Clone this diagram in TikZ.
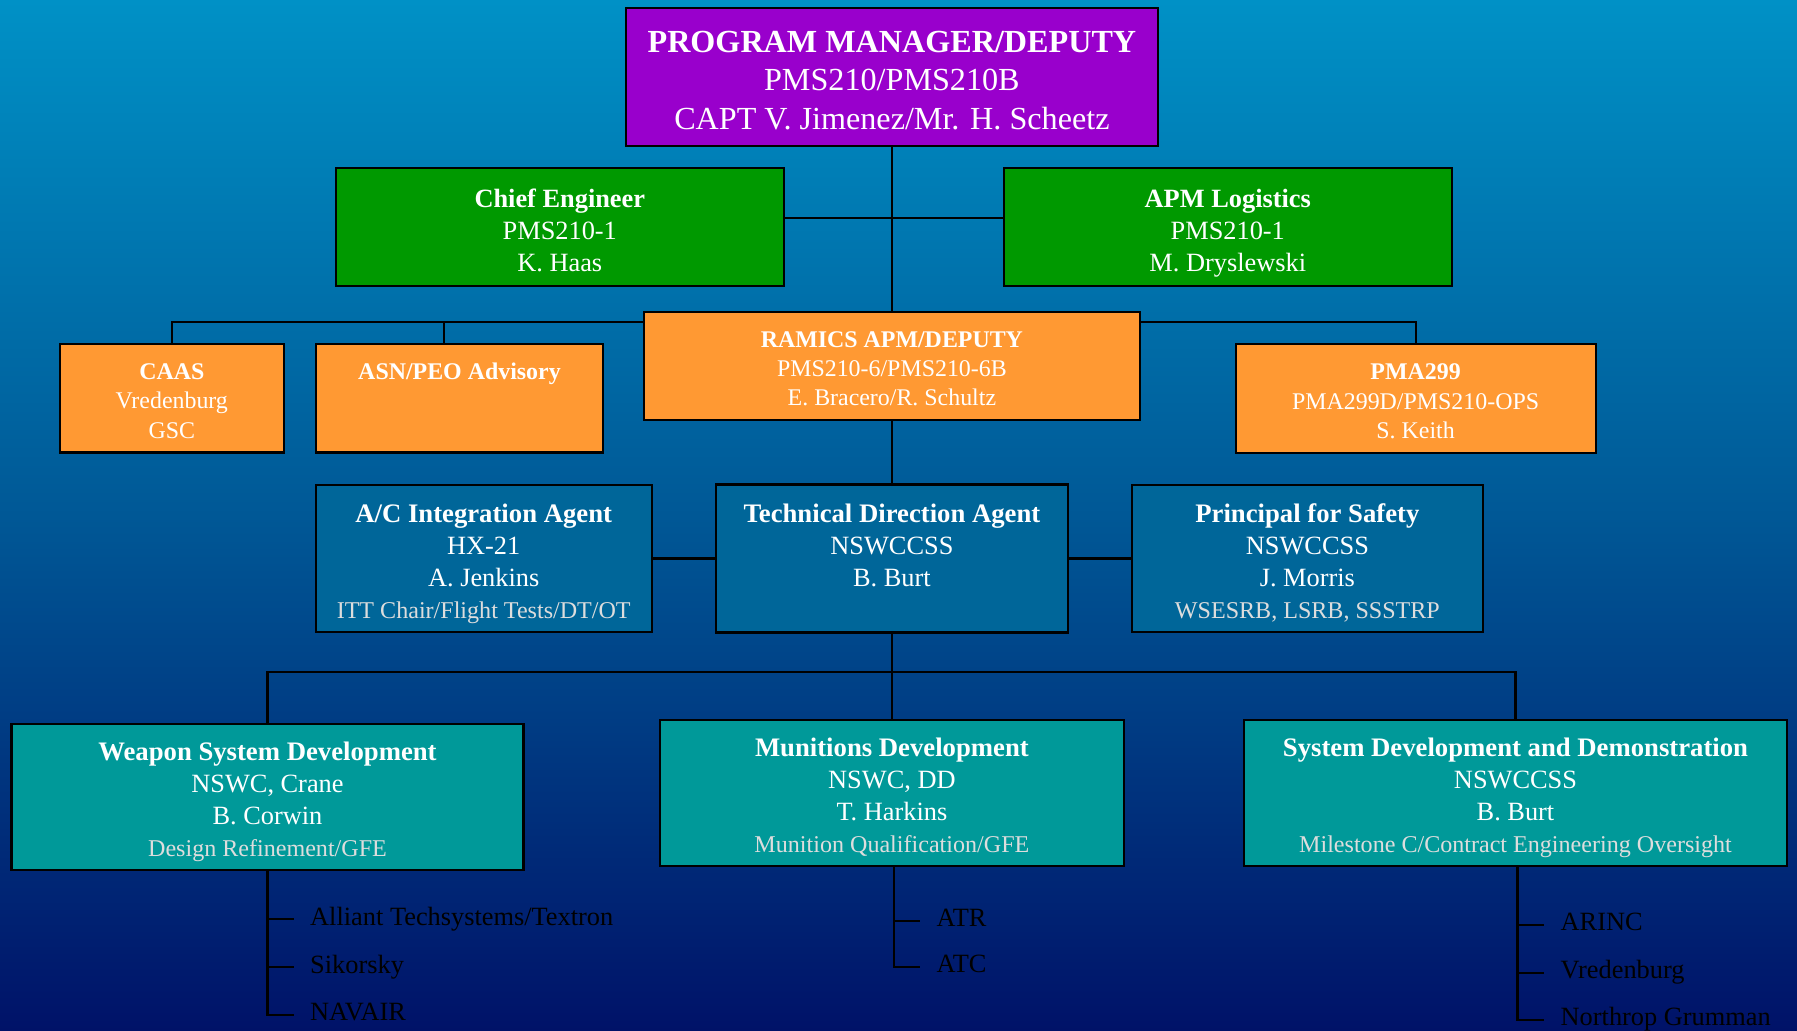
\documentclass[tikz,border=0pt]{standalone}
\usepackage{fontspec}
\setmainfont{Liberation Serif}
\usepackage{tikz}
\usetikzlibrary{positioning}
\usetikzlibrary{calc}

\definecolor{bgtop}{RGB}{0,145,198}
\definecolor{bgmid}{RGB}{0,88,150}
\definecolor{bgbot}{RGB}{0,18,104}
\definecolor{pmviolet}{RGB}{153,0,204}
\definecolor{staffgreen}{RGB}{0,153,0}
\definecolor{offorange}{RGB}{255,153,51}
\definecolor{agentblue}{RGB}{0,102,153}
\definecolor{actteal}{RGB}{0,153,153}
\definecolor{notegray}{RGB}{221,221,221}

\newcommand\duty[1]{{\fontsize{6.85}{9.1}\selectfont\color{notegray}#1}}
\newcommand\bighead[1]{\textbf{\fontsize{7.6}{9.1}\selectfont #1}}

\begin{document}
\begin{tikzpicture}[scale=1.0,
    unit/.style={draw=black, line width=0.6pt, text=white, align=center, inner sep=0pt, text depth=0pt},
    top/.style={unit, fill=pmviolet, font=\fontsize{9.15}{10.9}\selectfont, text height=29.6pt},
    staff/.style={unit, fill=staffgreen, font=\fontsize{7.5}{9.1}\selectfont, text height=25.1pt,
      minimum width=4.476cm, minimum height=1.18cm},
    office/.style={unit, fill=offorange, font=\fontsize{6.8}{8.3}\selectfont, text height=22.6pt},
    agent/.style={unit, fill=agentblue, font=\fontsize{7.5}{9.1}\selectfont, text height=33.9pt,
      minimum height=1.47cm},
    activity/.style={unit, fill=actteal, font=\fontsize{7.5}{9.1}\selectfont, text height=33.8pt,
      minimum height=1.456cm},
    member/.style={anchor=west, inner sep=0pt, text height=4.4pt, text depth=1pt,
      font=\fontsize{7.5}{9}\selectfont, text=black},
    link/.style={draw=black, line width=0.6pt}]
  \useasboundingbox (0,0) rectangle (17.97,-10.31);
  \shade[top color=bgtop, bottom color=bgbot, middle color=bgmid] (0,0) rectangle (17.97,-10.31);

  \node[top, minimum width=5.32cm, minimum height=1.38cm] (pm) at (8.919,-0.77)
    {\textbf{PROGRAM MANAGER/DEPUTY}\\PMS210/PMS210B\\CAPT V. Jimenez/Mr. H. Scheetz};

  \node[staff] (chief) at (5.598,-2.27) {\textbf{Chief Engineer}\\PMS210-1\\K. Haas};
  \node[staff] (apm) at (12.278,-2.27) {\textbf{APM Logistics}\\PMS210-1\\M. Dryslewski};

  \node[office, minimum width=2.236cm, minimum height=1.085cm] (caas) at (1.718,-3.983)
    {\textbf{CAAS}\\Vredenburg\\GSC};
  \node[office, minimum width=2.876cm, minimum height=1.085cm] (asn) at (4.595,-3.983)
    {\textbf{ASN/PEO Advisory}\\\mbox{}\\\mbox{}};
  \node[office, minimum width=4.958cm, minimum height=1.077cm] (ramics) at (8.919,-3.662)
    {\textbf{RAMICS APM/DEPUTY}\\PMS210-6/PMS210-6B\\E. Bracero/R. Schultz};
  \node[office, minimum width=3.6cm, minimum height=1.084cm] (pma) at (14.156,-3.985)
    {\textbf{PMA299}\\PMA299D/PMS210-OPS\\S. Keith};

  \node[agent, minimum width=3.359cm] (ac) at (4.837,-5.585)
    {\bighead{A/C Integration Agent}\\HX-21\\A. Jenkins\\\duty{ITT Chair/Flight Tests/DT/OT}};
  \node[agent, minimum width=3.517cm, minimum height=1.48cm] (tda) at (8.919,-5.585)
    {\bighead{Technical Direction Agent}\\NSWCCSS\\B. Burt\\\duty{\mbox{}}};
  \node[agent, minimum width=3.512cm] (safety) at (13.074,-5.585)
    {\bighead{Principal for Safety}\\NSWCCSS\\J. Morris\\\duty{WSESRB, LSRB, SSSTRP}};

  \node[activity, minimum width=5.12cm, minimum height=1.464cm] (wsd) at (2.675,-7.972)
    {\bighead{Weapon System Development}\\NSWC, Crane\\B. Corwin\\\duty{Design Refinement/GFE}};
  \node[activity, minimum width=4.638cm] (mun) at (8.919,-7.932)
    {\bighead{Munitions Development}\\NSWC, DD\\T. Harkins\\\duty{Munition Qualification/GFE}};
  \node[activity, minimum width=5.437cm] (sdd) at (15.155,-7.932)
    {\bighead{System Development and Demonstration}\\NSWCCSS\\B. Burt\\\duty{Milestone C/Contract Engineering Oversight}};

  \coordinate (bus) at (8.919,-6.72);

  \draw[link] (pm.south) -- (ramics.north);
  \draw[link] ([yshift=0.09cm]chief.east) -- ([yshift=0.09cm]apm.west);
  \draw[link] ([yshift=-0.11cm]ramics.north west) -| (caas.north);
  \draw[link] ([xshift=-0.158cm]asn.north) |- ([yshift=-0.11cm]ramics.north west);
  \draw[link] ([yshift=-0.11cm]ramics.north east) -| (pma.north);
  \draw[link] (ramics.south) -- (tda.north);
  \draw[link] (ac.east) -- (tda.west);
  \draw[link] (tda.east) -- (safety.west);
  \draw[link] (tda.south) -- (mun.north);
  \draw[link] (wsd.north) |- (bus) -| (sdd.north);

  \foreach \name/\ypos/\firm in {alliant/9.193/{Alliant Techsystems/Textron},
      sikorsky/9.672/Sikorsky, navair/10.15/NAVAIR}
  {
    \node[member] (\name) at (3.095,-\ypos) {\firm};
    \draw[link] (wsd.south) |- ([xshift=-0.155cm]\name.west);
  }
  \foreach \name/\ypos/\firm in {atr/9.207/ATR, atc/9.67/ATC}
  {
    \node[member] (\name) at (9.36,-\ypos) {\firm};
    \draw[link] ([xshift=0.02cm]mun.south) |- ([xshift=-0.16cm]\name.west);
  }
  \foreach \name/\ypos/\firm in {arinc/9.25/ARINC, vred/9.727/Vredenburg,
      northrop/10.2/Northrop Grumman}
  {
    \node[member] (\name) at (15.60,-\ypos) {\firm};
    \draw[link] ([xshift=0.02cm]sdd.south) |- ([xshift=-0.16cm]\name.west);
  }
\end{tikzpicture}
\end{document}
